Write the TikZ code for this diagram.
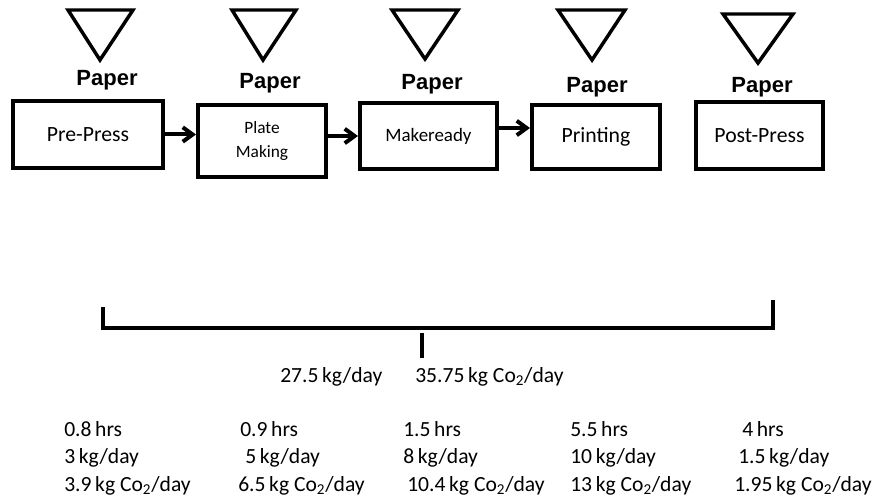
\documentclass[tikz,border=0pt]{standalone}
\usepackage{fontspec}
\setmainfont{Carlito}
\newfontfamily\paperfont{Liberation Sans}
\usetikzlibrary{arrows.meta,positioning}
\tikzset{
  stagebox/.style={draw=black,line width=3pt,align=center,inner sep=0pt,
    font=\fontsize{16.3}{18}\selectfont},
  feedtri/.style={draw=black,line width=2.6pt,line join=miter},
  paperlabel/.style={inner sep=0pt,font=\paperfont\bfseries\fontsize{16.5}{18}\selectfont},
  stepflow/.style={-{Straight Barb[length=2.6mm,width=3.8mm]},line width=3pt},
  totalline/.style={line width=3pt},
  datatext/.style={anchor=base west,inner sep=0pt,font=\fontsize{16.2}{18}\selectfont},
}
\newcommand{\cotwo}{Co\textsubscript{2}}

\begin{document}
\begin{tikzpicture}[x=0.75pt,y=-0.75pt]
  \useasboundingbox[fill=white] (0,0) rectangle (873,499);

  % process stages
  \node[stagebox,minimum width=112.5pt,minimum height=50.25pt] (pre) at (88,134.5) {Pre-Press};
  \node[stagebox,minimum width=96pt,minimum height=54pt,font=\fontsize{13}{17.5}\selectfont] (plate) at (262,141) {Plate\\Making};
  \node[stagebox,minimum width=102.75pt,minimum height=49.5pt,font=\fontsize{14.2}{16}\selectfont] (make) at (428.5,136) {\raisebox{2pt}{Makeready}};
  \node[stagebox,minimum width=96pt,minimum height=48pt] (print) at (596,137) {Printing};
  \node[stagebox,minimum width=95.25pt,minimum height=50.25pt] (post) at (759.5,135.5) {Post-Press};

  \draw[stepflow] (pre.east) -- (pre.east -| plate.west);
  \draw[stepflow] (make.west -| plate.east) -- (make.west);
  \draw[stepflow] ([yshift=6pt]make.east) -- ([yshift=6pt]make.east -| print.west);

  % paper inputs
  \foreach \l/\r/\t/\a/\ay/\px/\py/\n in {68/133/10/100/60/107/80/1,232/296/10/263/60/270/83/2,
      392/458/10/425/59/432/84/3,558/625/10/592/60/597/87/4,723/793/14/758/63/762/87/5}{
    \draw[feedtri] (\l,\t) -- (\r,\t) -- (\a,\ay) -- cycle;
    \node[paperlabel] (paper\n) at (\px,\py) {Paper};
  }

  % total bracket
  \coordinate (bl) at (103,307);
  \coordinate (br) at (773,300);
  \coordinate (bm) at (422,358);
  \draw[totalline] (bl) -- (bl |- 0,328) -- (br |- 0,328) -- (br);
  \draw[totalline] (bm |- 0,333) -- (bm);
  \node[datatext] (totkg) at (280,382) {27.5\,kg/day};
  \node[datatext] (totco) at (415,382) {35.75\,kg \cotwo/day};

  % per stage figures
  \foreach \xa/\xb/\xc/\hrs/\kg/\co/\n in {64/64/64/0.8/3/3.9/1,240/245/238/0.9/5/6.5/2,
      403/403/407/1.5/8/10.4/3,570/570/570/5.5/10/13/4,742/738/734/4/1.5/1.95/5}{
    \node[datatext] (hrs\n) at (\xa,436) {\hrs\,hrs};
    \node[datatext] (kg\n) at (\xb,463) {\kg\,kg/day};
    \node[datatext] (co\n) at (\xc,491) {\co\,kg \cotwo/day};
  }
\end{tikzpicture}
\end{document}
